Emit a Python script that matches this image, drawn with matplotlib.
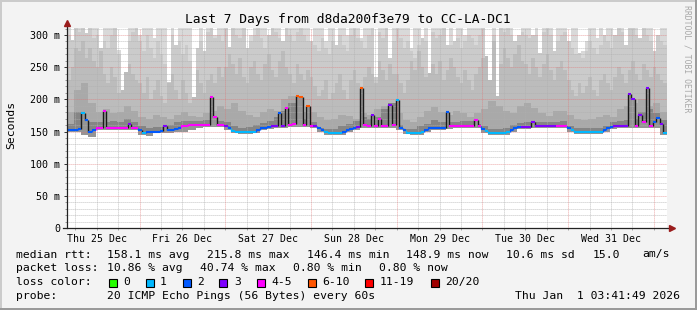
import numpy as np
import matplotlib
matplotlib.use("Agg")
import matplotlib.pyplot as plt
import matplotlib.dates as mdates
from matplotlib.patches import Rectangle
from datetime import datetime, timedelta

W, H = 697, 310
MONO = "DejaVu Sans Mono"

start = datetime(2025, 12, 25, 3, 41, 49)
n_hours = 168

# hourly median rtt (ms)
median = [153, 153, 153, 154, 179, 168, 150, 152,
          155, 155, 182, 155, 155, 155, 155, 156, 156,
          162, 156, 155,
          152, 147, 150, 150, 150, 150, 151,
          158, 152, 152, 154, 156,
          158, 159, 160, 160, 160, 160, 160, 160,
          203, 173, 160, 160,
          158, 155, 151, 150, 150, 149, 149, 150, 150,
          153, 155, 156, 157, 158, 158,
          179, 159, 186, 160, 162,
          205, 204, 160, 190,
          158, 158, 155, 152,
          149, 148, 148, 148, 148,
          150, 152, 154, 156, 157, 217, 160,
          159, 175, 158, 170, 158, 158, 191, 160, 199,
          155, 152, 148, 148, 148, 148, 149,
          152, 155, 156, 156, 156, 156, 181,
          158, 158, 158, 158, 158, 158, 158, 168, 158,
          154, 151, 148, 148, 148, 148, 148, 149,
          152, 155, 157, 157, 157, 157, 165,
          158, 158, 158, 158, 158, 158, 159, 159, 159,
          156, 152, 150, 149, 149, 149, 149, 149, 149, 150,
          152, 155, 157, 158, 158, 158, 158,
          208, 200, 159, 176, 165, 217, 158,
          165, 171, 162, 148]

# hourly lost pings out of 20
loss = [2, 2, 2, 2, 1, 2, 2, 2,
        4, 4, 4, 4, 4, 4, 4, 4, 4,
        3, 4, 4,
        2, 1, 2, 2, 2, 2, 2,
        3, 2, 2, 2, 2,
        4, 4, 4, 4, 4, 4, 4, 4,
        4, 4, 4, 4,
        3, 2, 1, 1, 1, 1, 1, 1, 1,
        2, 2, 2, 2, 3, 3,
        2, 3, 4, 4, 4,
        7, 7, 4, 7,
        4, 3, 2, 2,
        1, 1, 1, 1, 1,
        2, 2, 2, 2, 3, 7, 4,
        4, 3, 4, 4, 4, 4, 3, 4, 1,
        2, 2, 1, 1, 1, 1, 1,
        2, 2, 2, 2, 2, 2, 2,
        4, 4, 4, 4, 4, 4, 4, 4, 4,
        2, 1, 1, 1, 1, 1, 1, 1,
        2, 2, 2, 3, 3, 3, 3,
        3, 3, 3, 3, 3, 3, 4, 4, 4,
        2, 1, 1, 1, 1, 1, 1, 1, 1, 1,
        2, 2, 2, 3, 3, 3, 3,
        3, 3, 4, 3, 4, 3, 4,
        2, 2, 3, 1]

# smoke bands (ms): hourly outer bands
smoke_l1 = [300, 311, 311, 305, 311, 311, 311, 295, 300, 311, 290, 280, 300, 311, 270, 285, 300, 290, 305, 311,
            290, 275, 300, 280, 265, 290, 270, 255, 280, 300, 311, 290, 270, 285, 260, 275, 300, 290, 280, 305, 311, 295, 300, 290,
            311, 305, 311, 300, 295, 311, 305, 290, 300, 311, 295, 280, 300, 311, 305, 295, 311, 311, 300, 290, 305, 311, 300, 290,
            300, 285, 275, 295, 280, 270, 290, 305, 300, 285, 275, 300, 311, 295, 290, 280, 300, 311, 311, 305, 295, 311, 300, 290,
            311, 295, 280, 290, 275, 265, 285, 300, 290, 311, 305, 295, 300, 311, 290, 285, 300, 295, 280, 290, 300, 295, 285, 300,
            311, 311, 305, 300, 311, 311, 305, 311, 300, 311, 311, 305, 300, 295, 311, 300, 290, 305, 311, 300, 295, 290, 300, 305,
            290, 280, 270, 285, 265, 275, 290, 280, 270, 285, 300, 290, 280, 300, 311, 305, 300, 311, 311, 300, 305, 311, 300, 290,
            295, 300, 290, 285]
smoke_l2 = [230, 250, 280, 275, 290, 265, 280, 260, 250, 275, 240, 225, 250, 235, 210, 230, 245, 255, 240, 230,
            225, 210, 235, 200, 215, 230, 205, 195, 225, 240, 215, 200, 230, 210, 195, 220, 245, 225, 210, 230, 240, 225, 250, 235,
            250, 270, 255, 240, 265, 235, 225, 250, 260, 240, 230, 255, 270, 245, 235, 260, 275, 250, 240, 225, 255, 240, 230, 245,
            235, 220, 205, 215, 230, 200, 210, 225, 240, 215, 200, 230, 245, 225, 210, 235, 250, 240, 225, 260, 245, 230, 255, 240,
            240, 225, 210, 230, 260, 245, 275, 250, 235, 270, 255, 240, 260, 230, 245, 265, 250, 235, 225, 245, 230, 215, 240, 250,
            265, 285, 270, 290, 275, 255, 280, 265, 250, 270, 285, 260, 255, 240, 265, 250, 235, 255, 270, 245, 230, 250, 260, 245,
            230, 215, 205, 225, 210, 220, 235, 215, 205, 230, 240, 225, 215, 235, 250, 240, 225, 245, 260, 240, 230, 255, 245, 235,
            250, 240, 230, 225]
# inner bands, one value per 2 hours (ms)
smoke_l3 = [180, 215, 225, 195, 180, 185, 178, 180, 190, 182,
            172, 170, 175, 172, 170, 176, 180, 174, 172, 178, 182, 190,
            185, 195, 182, 175, 172, 180, 185, 182, 200, 205, 195, 180,
            180, 172, 168, 170, 176, 174, 170, 178, 176, 185, 190, 188,
            178, 168, 165, 172, 182, 188, 180, 176, 182, 178, 172, 178,
            185, 198, 190, 182, 178, 190, 195, 186, 178, 174, 182, 182,
            176, 170, 168, 170, 172, 175, 172, 185, 190, 195, 200, 190, 195, 180]
smoke_dark = [162, 180, 166, 164, 164, 164, 166, 164, 170, 164,
              158, 156, 157, 157, 160, 165, 167, 166, 167, 168, 172, 166,
              164, 158, 156, 157, 160, 163, 167, 172, 182, 195, 180, 170,
              165, 156, 154, 154, 158, 161, 166, 172, 170, 172, 185, 195,
              160, 154, 154, 158, 161, 168, 164, 165, 164, 166, 166, 162,
              158, 154, 154, 156, 160, 163, 165, 164, 165, 165, 164, 166,
              158, 155, 155, 155, 156, 158, 164, 166, 168, 170, 180, 185, 178, 168]
smoke_low = [150, 150, 145, 142, 152, 152, 152, 152, 152, 152,
             145, 143, 147, 147, 147, 149, 150, 153, 156, 157, 157, 157,
             152, 147, 146, 146, 148, 152, 154, 155, 156, 157, 157, 157,
             155, 149, 145, 145, 145, 149, 153, 156, 156, 155, 155, 156,
             152, 146, 145, 145, 149, 153, 153, 154, 155, 155, 155, 155,
             148, 145, 145, 145, 149, 154, 154, 155, 155, 155, 156, 156,
             149, 146, 146, 146, 146, 149, 154, 155, 155, 155, 155, 155, 155, 145]

# hours where the highest ping stays below the top of the graph
gap_hours = [1, 5, 9, 14, 15, 16, 20, 24, 28, 30, 35, 36, 38, 41, 45, 50, 51,
             56, 60, 68, 72, 75, 78, 82, 86, 90, 96, 99, 101, 106, 108, 111,
             117, 118, 120, 125, 126, 130, 132, 136, 140, 143, 144, 145, 148,
             150, 153, 156, 160, 164, 165]
gap_tops = [292, 303, 280, 277, 215, 243, 300, 295, 227, 285, 204, 280, 275,
            300, 281, 280, 300, 300, 290, 290, 290, 285, 300, 295, 235, 265,
            280, 295, 241, 285, 290, 300, 268, 230, 205, 290, 300, 300, 272,
            275, 290, 272, 275, 290, 295, 300, 300, 285, 295, 275, 300]

loss_labels = ["0", "1", "2", "3", "4-5", "6-10", "11-19", "20/20"]
loss_upper = [0, 1, 2, 3, 5, 10, 19, 20]
loss_colors = ["#26ff00", "#00b8ff", "#0059ff", "#7e00ff", "#ff00ff",
               "#ff5500", "#ff0000", "#a00000"]

stats_rtt = ["158.1 ms avg", "215.8 ms max", "146.4 ms min", "148.9 ms now",
             "10.6 ms sd", "15.0", "am/s"]
stats_loss = ["10.86 % avg", "40.74 % max", "0.80 % min", "0.80 % now"]


def loss_color(n):
    for up, c in zip(loss_upper, loss_colors):
        if n <= up:
            return c
    return loss_colors[-1]


def px(x, y):
    return x / W, 1 - y / H


edges = mdates.date2num([start + timedelta(hours=i) for i in range(n_hours + 1)])
med = np.array(median, dtype=float)
top = np.full(n_hours, 311.0)
top[gap_hours] = gap_tops


def clip(v):
    return np.minimum(np.maximum(np.array(v, dtype=float), med), top)


def band(ax, lo, hi, color, z=2):
    ax.fill_between(edges, np.append(lo, lo[-1]), np.append(hi, hi[-1]),
                    step="post", color=color, lw=0, zorder=z)


fig = plt.figure(figsize=(W / 100, H / 100), dpi=100, facecolor="#f3f3f3")
ax = fig.add_axes([67 / W, 82 / H, 600 / W, 200 / H])
ax.set_facecolor("white")

band(ax, med, top, "#d9d9d9")
band(ax, med, clip(smoke_l1), "#cbcbcb")
band(ax, med, clip(smoke_l2), "#bcbcbc")
band(ax, med, clip(np.repeat(smoke_l3, 2)), "#a9a9a9")
band(ax, med, clip(np.repeat(smoke_dark, 2)), "#858585")
low = np.minimum(np.repeat(np.array(smoke_low, dtype=float), 2), med)
band(ax, low, med, "#959595")

# grid on top of the smoke
for v in range(10, 311, 10):
    if v % 50:
        ax.axhline(v, color="#b0b0b0", lw=0.6, ls=(0, (1, 1.4)), zorder=3)
for v in range(50, 301, 50):
    ax.axhline(v, color="#e07070", lw=0.6, ls=(0, (1, 1.4)), alpha=0.8, zorder=3)
t = datetime(2025, 12, 25, 6)
while t < start + timedelta(days=7):
    c, a = ("#e07070", 0.8) if t.hour == 0 else ("#b0b0b0", 1.0)
    ax.axvline(mdates.date2num(t), color=c, alpha=a, lw=0.6, ls=(0, (1, 1.4)), zorder=3)
    t += timedelta(hours=6)

# median line coloured by loss
for i in range(n_hours):
    c = loss_color(loss[i])
    ax.hlines(med[i], edges[i], edges[i + 1], color=c, lw=1.5, zorder=5)
    if i + 1 < n_hours:
        a, b = med[i], med[i + 1]
        vc = "#1a1a1a" if abs(a - b) > 4 else loss_color(loss[i + 1])
        ax.vlines(edges[i + 1], min(a, b), max(a, b), color=vc, lw=1.0, zorder=4)

ax.set_xlim(edges[0], edges[-1])
ax.set_ylim(0, 310.9)
for s in ax.spines.values():
    s.set_visible(False)

ax.set_yticks(range(0, 301, 50))
ax.set_yticklabels(["0"] + [f"{v} m" for v in range(50, 301, 50)],
                   family=MONO, fontsize=7.2)
ax.set_yticks(range(0, 311, 10), minor=True)
ax.tick_params(axis="y", which="major", length=2.5, width=0.7, color="#333333", pad=2.5)
ax.tick_params(axis="y", which="minor", length=1.2, width=0.6, color="#888888")

ax.xaxis.set_major_locator(mdates.HourLocator(byhour=[12]))
ax.xaxis.set_major_formatter(mdates.DateFormatter("%a %d %b"))
ax.xaxis.set_minor_locator(mdates.HourLocator(byhour=[0, 6, 18]))
ax.tick_params(axis="x", which="both", length=1.5, width=0.6, color="#999999", pad=2.5)
for lab in ax.get_xticklabels():
    lab.set_family(MONO)
    lab.set_fontsize(7.1)

# axes with arrows
arrow = "#9a1c1c"
ax.plot([-4 / 600, 1 + 5 / 600], [0, 0], transform=ax.transAxes, clip_on=False,
        color="#222222", lw=0.9, zorder=6)
ax.plot([0, 0], [0, 1 + 5 / 200], transform=ax.transAxes, clip_on=False,
        color="#222222", lw=0.9, zorder=6)
ax.plot([1 + 5 / 600], [0], marker=">", ms=4, color=arrow, transform=ax.transAxes,
        clip_on=False, zorder=7)
ax.plot([0], [1 + 5 / 200], marker="^", ms=4, color=arrow, transform=ax.transAxes,
        clip_on=False, zorder=7)

fig.text(*px(347.5, 19), "Last 7 Days from d8da200f3e79 to CC-LA-DC1",
         family=MONO, fontsize=9.3, ha="center", va="center")
fig.text(*px(11, 125), "Seconds", family=MONO, fontsize=8.2, rotation=90,
         ha="center", va="center")
fig.text(*px(687, 59), "RRDTOOL / TOBI OETIKER", family=MONO, fontsize=5.9,
         rotation=270, ha="center", va="center", color="#a8a8a8")

# legend
leg = dict(family=MONO, fontsize=8.2, va="center", ha="left")
fig.text(*px(16, 254.5), "median rtt:", **leg)
for x, s in zip([107, 207.3, 306.7, 406.5, 505.8, 593, 642], stats_rtt):
    fig.text(*px(x, 254.5), s, **leg)
fig.text(*px(16, 268.3), "packet loss:", **leg)
for x, s in zip([107, 200, 293.3, 379.3], stats_loss):
    fig.text(*px(x, 268.3), s, **leg)
fig.text(*px(16, 282.3), "loss color:", **leg)
box_x = [108.7, 145.5, 182.7, 219.3, 256.7, 307.7, 365, 430.7]
for bx, lab, c in zip(box_x, loss_labels, loss_colors):
    fig.add_artist(Rectangle(px(bx, 286.5), 8 / W, 8 / H, transform=fig.transFigure,
                             facecolor=c, edgecolor="black", lw=0.8))
    fig.text(*px(bx + 14.5, 282.3), lab, **leg)
fig.text(*px(16, 296), "probe:", **leg)
fig.text(*px(107, 296), "20 ICMP Echo Pings (56 Bytes) every 60s", **leg)
fig.text(*px(680, 296), "Thu Jan  1 03:41:49 2026", family=MONO, fontsize=8.2,
         va="center", ha="right")

# 3d frame
fig.add_artist(Rectangle((0, 1 - 2 / H), 1, 2 / H, transform=fig.transFigure, color="#cbcbcb", lw=0))
fig.add_artist(Rectangle((0, 0), 2 / W, 1, transform=fig.transFigure, color="#cbcbcb", lw=0))
fig.add_artist(Rectangle((0, 0), 1, 2.5 / H, transform=fig.transFigure, color="#9a9a9a", lw=0))
fig.add_artist(Rectangle((1 - 2 / W, 0), 2 / W, 1, transform=fig.transFigure, color="#9a9a9a", lw=0))

fig.savefig("out.png", dpi=100, facecolor=fig.get_facecolor())
